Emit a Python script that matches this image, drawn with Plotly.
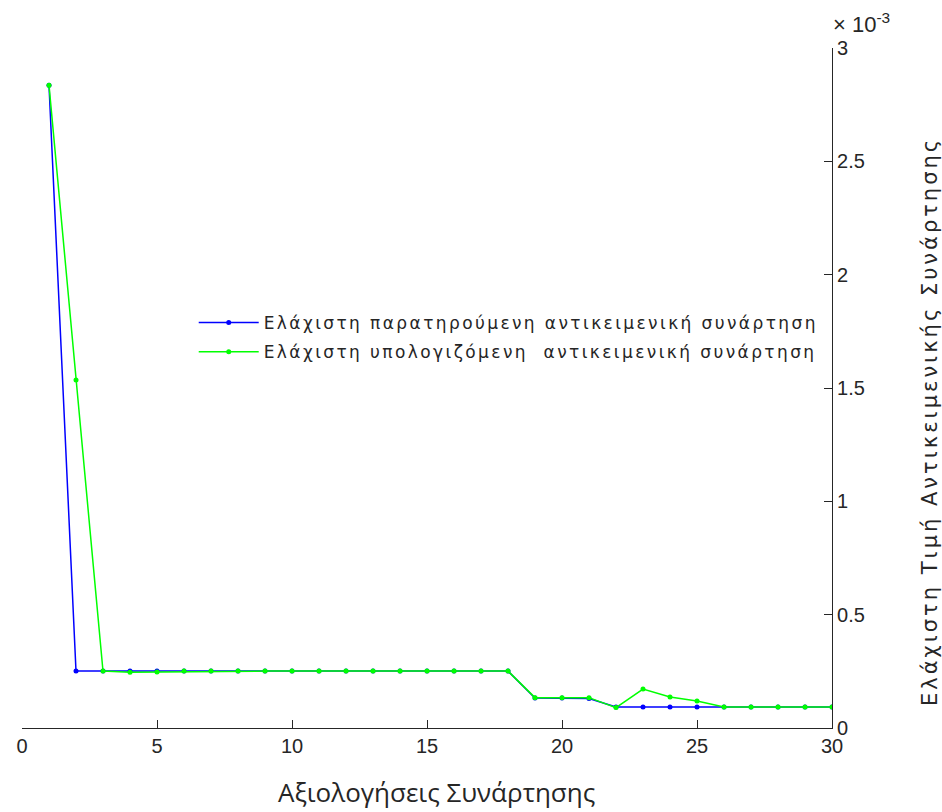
import plotly.graph_objects as go

x_vals = list(range(1, 31))
observed = [2.836e-3, 0.251e-3, 0.251e-3, 0.251e-3, 0.251e-3, 0.251e-3, 0.251e-3, 0.251e-3, 0.251e-3,
            0.251e-3, 0.251e-3, 0.251e-3, 0.251e-3, 0.251e-3, 0.251e-3, 0.251e-3, 0.251e-3, 0.251e-3,
            0.132e-3, 0.132e-3, 0.130e-3, 0.093e-3, 0.093e-3, 0.093e-3, 0.093e-3, 0.093e-3, 0.093e-3,
            0.093e-3, 0.093e-3, 0.093e-3]
computed = [2.836e-3, 1.535e-3, 0.251e-3, 0.246e-3, 0.247e-3, 0.251e-3, 0.251e-3, 0.251e-3, 0.251e-3,
            0.251e-3, 0.251e-3, 0.251e-3, 0.251e-3, 0.251e-3, 0.251e-3, 0.251e-3, 0.251e-3, 0.251e-3,
            0.134e-3, 0.134e-3, 0.134e-3, 0.090e-3, 0.172e-3, 0.137e-3, 0.119e-3, 0.093e-3, 0.093e-3,
            0.093e-3, 0.093e-3, 0.093e-3]
names = ["Ελάχιστη παρατηρούμενη αντικειμενική συνάρτηση",
         "Ελάχιστη υπολογιζόμενη  αντικειμενική συνάρτηση"]
x_title = "Αξιολογήσεις Συνάρτησης"
y_title = "Ελάχιστη Τιμή Αντικειμενικής Συνάρτησης"
x_ticks = [0, 5, 10, 15, 20, 25, 30]
y_ticks = [0, 0.5e-3, 1e-3, 1.5e-3, 2e-3, 2.5e-3, 3e-3]
y_ticktext = ["0", "0.5", "1", "1.5", "2", "2.5", "3"]

FONT = "Liberation Sans"
WIDE = "DejaVu Sans"
TXT = "#262626"


def spaced(s, px):
    return '<span style="letter-spacing:%spx">%s</span>' % (px, s)


fig = go.Figure()
fig.add_trace(go.Scatter(x=x_vals, y=observed, name=spaced(names[0], 2.4), mode="lines+markers",
                         legendgroup="a",
                         line=dict(color="#0000FF", width=1.5), marker=dict(size=5, color="#0000FF")))
fig.add_trace(go.Scatter(x=x_vals, y=computed, name=spaced(names[1], 2.4), mode="lines+markers",
                         legendgroup="b",
                         line=dict(color="#00FF00", width=1.5), marker=dict(size=5, color="#00FF00")))

fig.update_layout(
    width=942, height=812,
    margin=dict(l=22, r=110, t=48, b=84),
    paper_bgcolor="white", plot_bgcolor="white",
    font=dict(family=FONT, color=TXT, size=20),
    showlegend=True,
    legend=dict(x=0.212, y=0.622, xanchor="left", yanchor="top",
                bgcolor="rgba(0,0,0,0)", borderwidth=0,
                font=dict(family=WIDE, size=17, color=TXT),
                itemwidth=60, tracegroupgap=4),
    xaxis=dict(range=[0, 30], tickvals=x_ticks, ticks="inside", ticklen=8, tickcolor=TXT,
               showline=True, linecolor=TXT, linewidth=1.2, showgrid=False, zeroline=False,
               tickfont=dict(size=20, color=TXT)),
    yaxis=dict(range=[0, 3e-3], side="right", tickvals=y_ticks, ticktext=y_ticktext,
               ticks="inside", ticklen=8, tickcolor=TXT,
               showline=True, linecolor=TXT, linewidth=1.2, showgrid=False, zeroline=False,
               tickfont=dict(size=20, color=TXT)),
)
# x-axis title
fig.add_annotation(x=0.512, y=0, xref="paper", yref="paper", xanchor="center", yanchor="middle",
                   yshift=-64, showarrow=False,
                   text=x_title, font=dict(family="Open Sans", size=26, color=TXT))
# y-axis title (right side, reading upward)
fig.add_annotation(x=1.0, y=0.45, xref="paper", yref="paper", xanchor="center", yanchor="middle",
                   xshift=98, showarrow=False, textangle=-90,
                   text=spaced(y_title, 3.0), font=dict(family=WIDE, size=21, color=TXT))
# exponent label
fig.add_annotation(x=1.0, y=1.0, xref="paper", yref="paper", xanchor="left", yanchor="bottom",
                   xshift=0, yshift=10, showarrow=False, borderpad=0,
                   text="× 10<sup>-3</sup>", font=dict(family=FONT, size=22, color=TXT))

fig.write_html("out.html", config={"displayModeBar": False},
               post_script="document.body.style.margin='0';")
